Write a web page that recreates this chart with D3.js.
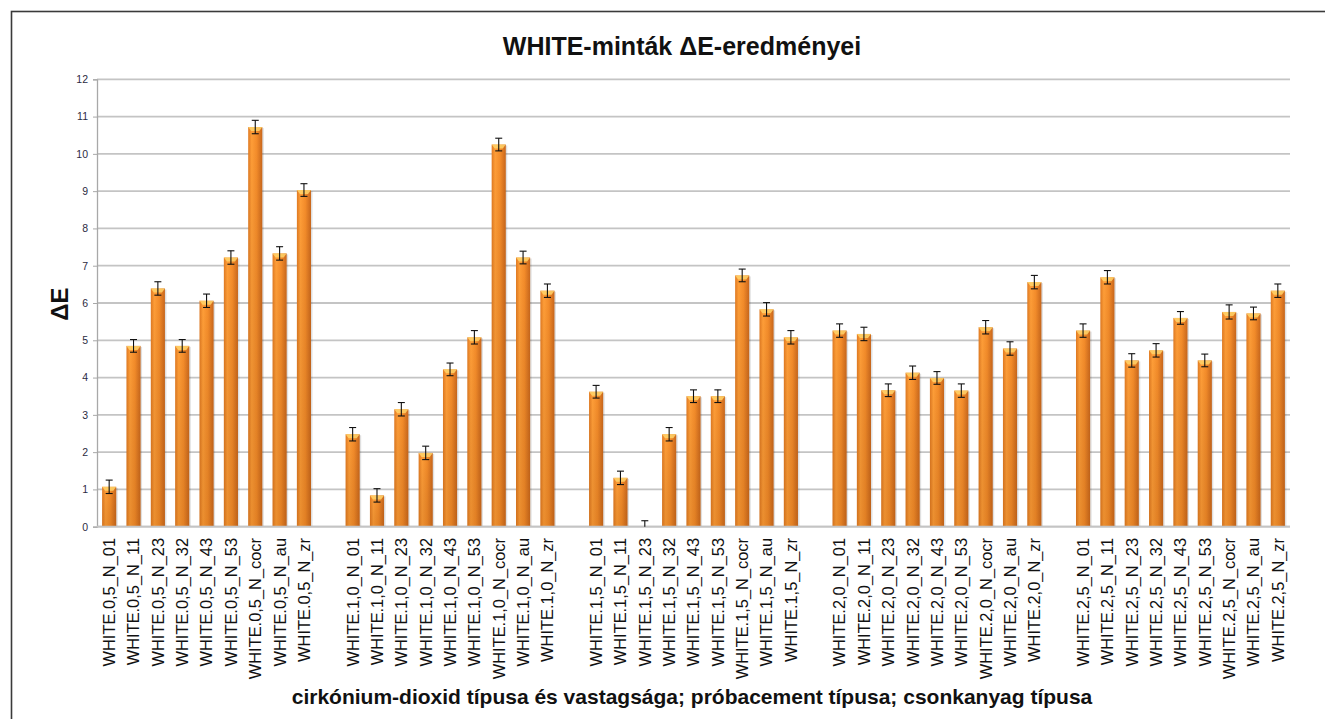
<!DOCTYPE html>
<html>
<head>
<meta charset="utf-8">
<script src="https://cdn.jsdelivr.net/npm/d3@7"></script>
<style>
  body { margin: 0; background: #fff; }
  text { font-family: "Liberation Sans", Arial, sans-serif; }
</style>
</head>
<body>
<div id="chart"></div>
<script>
const width = 1325;
const height = 719;

// zirconia thickness groups and sample suffixes
const groups = ['0,5', '1,0', '1,5', '2,0', '2,5'];
const suffixes = ['01', '11', '23', '32', '43', '53', 'cocr', 'au', 'zr'];

const vals05 = [1.07, 4.85, 6.39, 4.85, 6.06, 7.22, 10.72, 7.33, 9.03];
const vals10 = [2.48, 0.84, 3.15, 1.98, 4.22, 5.08, 10.25, 7.22, 6.33];
const vals15 = [3.62, 1.31, 0.0, 2.48, 3.50, 3.50, 6.74, 5.83, 5.08];
const vals20 = [5.26, 5.17, 3.66, 4.13, 3.99, 3.65, 5.35, 4.78, 6.56];
const vals25 = [5.26, 6.69, 4.46, 4.73, 5.60, 4.46, 5.76, 5.72, 6.33];

const err05 = [0.18, 0.17, 0.18, 0.17, 0.18, 0.18, 0.18, 0.18, 0.17];
const err10 = [0.18, 0.18, 0.18, 0.18, 0.17, 0.18, 0.17, 0.17, 0.18];
const err15 = [0.17, 0.18, 0.16, 0.18, 0.17, 0.17, 0.17, 0.18, 0.18];
const err20 = [0.18, 0.18, 0.17, 0.18, 0.17, 0.18, 0.18, 0.18, 0.18];
const err25 = [0.18, 0.18, 0.18, 0.18, 0.17, 0.17, 0.19, 0.17, 0.18];

const yTicks = [0, 1, 2, 3, 4, 5, 6, 7, 8, 9, 10, 11, 12];

const allVals = [vals05, vals10, vals15, vals20, vals25];
const allErrs = [err05, err10, err15, err20, err25];

// build bars + empty gap slots between groups
const slots = [];
const bars = [];
groups.forEach((g, gi) => {
    suffixes.forEach((s, si) => {
        const key = 'WHITE.' + g + '_N_' + s;
        slots.push(key);
        bars.push({ key: key, value: allVals[gi][si], err: allErrs[gi][si] });
    });
    if (gi < groups.length - 1) slots.push('gap' + gi);
});

const svg = d3.select('#chart')
    .append('svg')
    .attr('width', width)
    .attr('height', height);

const defs = svg.append('defs');
const grad = defs.append('linearGradient')
    .attr('id', 'barGrad')
    .attr('x1', '0%').attr('x2', '100%').attr('y1', '0%').attr('y2', '0%');
grad.append('stop').attr('offset', '0%').attr('stop-color', '#e07a22');
grad.append('stop').attr('offset', '25%').attr('stop-color', '#ff9e38');
grad.append('stop').attr('offset', '60%').attr('stop-color', '#f48c2a');
grad.append('stop').attr('offset', '100%').attr('stop-color', '#c9671c');

const shade = defs.append('linearGradient')
    .attr('id', 'barShade')
    .attr('x1', '0%').attr('x2', '0%').attr('y1', '0%').attr('y2', '100%');
shade.append('stop').attr('offset', '0%').attr('stop-color', '#000').attr('stop-opacity', 0);
shade.append('stop').attr('offset', '100%').attr('stop-color', '#7a3a00').attr('stop-opacity', 0.15);

// outer frame
svg.append('rect')
    .attr('x', 11.5).attr('y', 11.5)
    .attr('width', 1330).attr('height', 730)
    .attr('fill', 'none')
    .attr('stroke', '#3a3a3a')
    .attr('stroke-width', 1.6);

const x = d3.scaleBand()
    .domain(slots)
    .range([97, 1290])
    .paddingInner(0.42)
    .paddingOuter(0.21);

const y = d3.scaleLinear()
    .domain([0, 12])
    .range([526.7, 79.3]);

// gridlines
svg.append('g')
    .selectAll('line')
    .data(yTicks)
    .enter()
    .append('line')
    .attr('x1', 97)
    .attr('x2', 1290)
    .attr('y1', d => y(d))
    .attr('y2', d => y(d))
    .attr('stroke', '#c4c4c4')
    .attr('stroke-width', 1.8);

// y axis
const yAxis = svg.append('g')
    .attr('transform', 'translate(97,0)')
    .call(d3.axisLeft(y).tickValues(yTicks).tickSize(4).tickPadding(5).tickFormat(d3.format('d')));
yAxis.select('.domain').attr('stroke', '#a8a8a8').attr('stroke-width', 1.3);
yAxis.selectAll('.tick line').attr('stroke', '#a8a8a8');
yAxis.selectAll('.tick text')
    .attr('fill', '#2b2b3f')
    .style('font-size', '10.5px')
    .style('font-family', '"Liberation Sans", Arial, sans-serif');

// bars
const bw = x.bandwidth();
const barG = svg.append('g');

barG.selectAll('.shadow')
    .data(bars.filter(d => d.value > 0))
    .enter()
    .append('rect')
    .attr('x', d => x(d.key) + 1.5)
    .attr('y', d => y(d.value) + 1)
    .attr('width', bw)
    .attr('height', d => y(0) - y(d.value) - 1)
    .attr('fill', '#000')
    .attr('opacity', 0.12);

barG.selectAll('.bar')
    .data(bars.filter(d => d.value > 0))
    .enter()
    .append('rect')
    .attr('x', d => x(d.key))
    .attr('y', d => y(d.value))
    .attr('width', bw)
    .attr('height', d => y(0) - y(d.value))
    .attr('fill', 'url(#barGrad)');

barG.selectAll('.barshade')
    .data(bars.filter(d => d.value > 0))
    .enter()
    .append('rect')
    .attr('x', d => x(d.key))
    .attr('y', d => y(d.value))
    .attr('width', bw)
    .attr('height', d => y(0) - y(d.value))
    .attr('fill', 'url(#barShade)');

// top bevel highlight
barG.selectAll('.bevel')
    .data(bars.filter(d => d.value > 0))
    .enter()
    .append('path')
    .attr('d', d => {
        const x0 = x(d.key), t = y(d.value);
        return 'M' + x0 + ',' + t + 'L' + (x0 + bw) + ',' + t +
            'L' + (x0 + bw - 3) + ',' + (t + 4) + 'L' + (x0 + 3) + ',' + (t + 4) + 'Z';
    })
    .attr('fill', '#ffd36a')
    .attr('opacity', 0.85);

// baseline
svg.append('line')
    .attr('x1', 97).attr('x2', 1290)
    .attr('y1', y(0)).attr('y2', y(0))
    .attr('stroke', '#c4c4c4')
    .attr('stroke-width', 1.8);

// error bars
const errG = svg.append('g')
    .attr('stroke', '#111')
    .attr('stroke-width', 1.1);
bars.forEach(d => {
    const cx = x(d.key) + bw / 2;
    const lo = Math.max(0, d.value - d.err);
    const hi = d.value + d.err;
    errG.append('line').attr('x1', cx).attr('x2', cx).attr('y1', y(lo)).attr('y2', y(hi));
    errG.append('line').attr('x1', cx - 3.5).attr('x2', cx + 3.5).attr('y1', y(hi)).attr('y2', y(hi));
    if (d.value > 0) {
        errG.append('line').attr('x1', cx - 3.5).attr('x2', cx + 3.5).attr('y1', y(lo)).attr('y2', y(lo));
    }
});

// x category labels
svg.append('g')
    .selectAll('text')
    .data(bars)
    .enter()
    .append('text')
    .attr('transform', d => 'translate(' + (x(d.key) + bw / 2) + ',538) rotate(-90)')
    .attr('text-anchor', 'end')
    .attr('dy', '0.36em')
    .attr('fill', '#111')
    .style('font-size', '16.4px')
    .text(d => d.key);

// title
svg.append('text')
    .attr('x', 682)
    .attr('y', 55)
    .attr('text-anchor', 'middle')
    .attr('fill', '#111')
    .style('font-size', '25px')
    .style('font-weight', 'bold')
    .text('WHITE-minták ΔE-eredményei');

// y axis title
svg.append('text')
    .attr('transform', 'translate(68,304) rotate(-90)')
    .attr('text-anchor', 'middle')
    .attr('fill', '#111')
    .style('font-size', '24px')
    .style('font-weight', 'bold')
    .text('ΔE');

// x axis title
svg.append('text')
    .attr('x', 692)
    .attr('y', 704)
    .attr('text-anchor', 'middle')
    .attr('fill', '#111')
    .style('font-size', '21px')
    .style('font-weight', 'bold')
    .text('cirkónium-dioxid típusa és vastagsága; próbacement típusa; csonkanyag típusa');
</script>
</body>
</html>
